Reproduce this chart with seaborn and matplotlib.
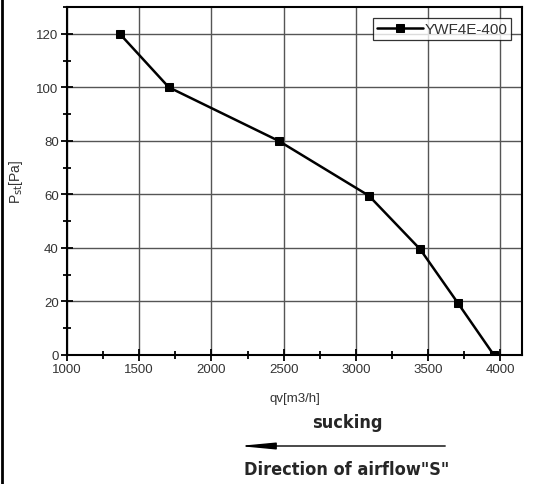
import matplotlib
matplotlib.use("Agg")
import matplotlib.pyplot as plt
import seaborn as sns
import pandas as pd
from matplotlib.ticker import MultipleLocator

qv = [1365, 1705, 2465, 3090, 3445, 3705, 3955]
pst = [120, 100, 80, 59.5, 39.5, 19.5, 0]
series = ["YWF4E-400"] * len(qv)
xticks = [1000, 1500, 2000, 2500, 3000, 3500, 4000]
yticks = [0, 20, 40, 60, 80, 100, 120]

df = pd.DataFrame({"qv": qv, "pst": pst, "series": series})

sns.set_theme(style="white")
plt.rcParams['font.family'] = ['Liberation Sans', 'DejaVu Sans']
plt.rcParams['xtick.top'] = False
plt.rcParams['ytick.right'] = False

fig = plt.figure(figsize=(5.37, 4.85), dpi=100)
ax = fig.add_axes([67/537, 1-356/485, (522-67)/537, (356-8)/485])

sns.lineplot(data=df, x="qv", y="pst", hue="series", palette=["black"],
             marker="s", markersize=5.5, markeredgecolor="black",
             linewidth=1.8, ax=ax, sort=False)

ax.set_xlim(1000, 4150)
ax.set_ylim(0, 130)
ax.set_xticks(xticks)
ax.set_yticks(yticks)
ax.xaxis.set_minor_locator(MultipleLocator(250))
ax.yaxis.set_minor_locator(MultipleLocator(10))
ax.tick_params(which="major", direction="inout", length=8, width=1.3,
               labelsize=9.5, labelcolor="#333333", color="black", pad=2)
ax.tick_params(which="minor", direction="inout", length=6, width=1.3, color="black")
ax.tick_params(which="both", top=False, right=False, labeltop=False, labelright=False,
               bottom=True, left=True)
ax.grid(True, which="major", color="#555555", linewidth=1.0)
for s in ax.spines.values():
    s.set_color("black")
    s.set_linewidth(1.5)

ax.set_xlabel("qv[m3/h]", fontsize=9.5, color="#333333", labelpad=12)
ax.set_ylabel(r"P$_{\mathrm{st}}$[Pa]", fontsize=10, color="#333333", labelpad=8)

leg = ax.legend(loc="upper right", bbox_to_anchor=(0.983, 0.976), fontsize=11,
                frameon=True, fancybox=False, handlelength=3.0, handletextpad=0.1,
                borderpad=0.25, borderaxespad=0.2)
leg.get_frame().set_edgecolor("black")
leg.get_frame().set_linewidth(0.9)
for t in leg.get_texts():
    t.set_color("#333333")

fig.text(347/537, 1-423/485, "sucking", ha="center", va="center",
         fontsize=13, fontweight="bold", family="DejaVu Sans", fontstretch="condensed")
fig.text(347/537, 1-470/485, 'Direction of airflow"S"', ha="center", va="center",
         fontsize=13, fontweight="bold", family="DejaVu Sans", fontstretch="condensed")
ax.annotate("", xy=(236/537, 1-447/485), xytext=(448/537, 1-447/485),
            xycoords="figure fraction", textcoords="figure fraction",
            arrowprops=dict(arrowstyle="-|>,head_length=1.8,head_width=0.17",
                            color="black", lw=1.0))

fig.add_artist(plt.Line2D([1.5/537, 1.5/537], [0, 1], transform=fig.transFigure,
                          color="black", linewidth=2))

fig.canvas.draw()
for axis in (ax.xaxis, ax.yaxis):
    for t in axis.get_major_ticks() + axis.get_minor_ticks():
        t.tick2line.set_visible(False)
        t.label2.set_visible(False)

fig.savefig("out.png", dpi=100)
